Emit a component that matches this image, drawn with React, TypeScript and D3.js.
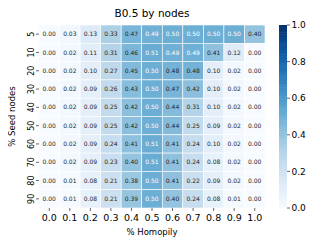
import React from "react";
import { scaleBand, scaleLinear, interpolateBlues, range } from "d3";

const homophily = ["0.0", "0.1", "0.2", "0.3", "0.4", "0.5", "0.6", "0.7", "0.8", "0.9", "1.0"];
const seedNodes = ["5", "10", "20", "30", "40", "50", "60", "70", "80", "90"];

const row5 = [0.0, 0.03, 0.13, 0.33, 0.47, 0.49, 0.5, 0.5, 0.5, 0.5, 0.4];
const row10 = [0.0, 0.02, 0.11, 0.31, 0.46, 0.51, 0.49, 0.49, 0.41, 0.12, 0.0];
const row20 = [0.0, 0.02, 0.1, 0.27, 0.45, 0.5, 0.48, 0.48, 0.1, 0.02, 0.0];
const row30 = [0.0, 0.02, 0.09, 0.26, 0.43, 0.5, 0.47, 0.42, 0.1, 0.02, 0.0];
const row40 = [0.0, 0.02, 0.09, 0.25, 0.42, 0.5, 0.44, 0.31, 0.1, 0.02, 0.0];
const row50 = [0.0, 0.02, 0.09, 0.25, 0.42, 0.5, 0.44, 0.25, 0.09, 0.02, 0.0];
const row60 = [0.0, 0.02, 0.09, 0.24, 0.41, 0.51, 0.41, 0.24, 0.1, 0.02, 0.0];
const row70 = [0.0, 0.02, 0.09, 0.23, 0.4, 0.51, 0.41, 0.24, 0.08, 0.02, 0.0];
const row80 = [0.0, 0.01, 0.08, 0.21, 0.38, 0.5, 0.41, 0.22, 0.09, 0.02, 0.0];
const row90 = [0.0, 0.01, 0.08, 0.21, 0.39, 0.5, 0.4, 0.24, 0.08, 0.01, 0.0];
const rows = [row5, row10, row20, row30, row40, row50, row60, row70, row80, row90];

const colorbarTicks = [0, 0.2, 0.4, 0.6, 0.8, 1.0];

const font = "DejaVu Sans, sans-serif";

export default function App() {
    const width = 332;
    const height = 249;
    const left = 39;
    const right = 265;
    const top = 25;
    const bottom = 208;

    const x = scaleBand().domain(homophily).range([left, right]);
    const y = scaleBand().domain(seedNodes).range([top, bottom]);
    const color = (v: number) => interpolateBlues(v);

    // colorbar
    const cbX = 279;
    const cbW = 8;
    const cbY = scaleLinear().domain([0, 1]).range([bottom, top]);
    const steps = range(0, 1.0001, 0.01);

    return (
        <div style={{ margin: -8 }}>
            <svg width={width} height={height} style={{ display: "block" }}>
                <rect width={width} height={height} fill="white" />
                <text x={(left + right) / 2} y={17} textAnchor="middle" fontFamily={font} fontSize={10.5} fill="#000">
                    B0.5 by nodes
                </text>
                {rows.map((vals, r) =>
                    vals.map((v, c) => (
                        <g key={`${r}-${c}`}>
                            <rect
                                x={x(homophily[c])}
                                y={y(seedNodes[r])}
                                width={x.bandwidth()}
                                height={y.bandwidth()}
                                fill={color(v)}
                                stroke="white"
                                strokeWidth={0.6}
                            />
                            <text
                                x={x(homophily[c])! + x.bandwidth() / 2}
                                y={y(seedNodes[r])! + y.bandwidth() / 2}
                                dy="0.35em"
                                textAnchor="middle"
                                fontFamily={font}
                                fontSize={6}
                                fill={v >= 0.49 ? "white" : "#262626"}
                            >
                                {v.toFixed(2)}
                            </text>
                        </g>
                    ))
                )}
                {/* y axis */}
                {seedNodes.map((s) => {
                    const cy = y(s)! + y.bandwidth() / 2;
                    return (
                        <g key={s}>
                            <line x1={left - 3} x2={left} y1={cy} y2={cy} stroke="#000" strokeWidth={0.6} />
                            <text
                                transform={`translate(${left - 5},${cy}) rotate(-90)`}
                                textAnchor="middle"
                                fontFamily={font}
                                fontSize={8}
                                fill="#000"
                            >
                                {s}
                            </text>
                        </g>
                    );
                })}
                <text
                    transform={`translate(15,${(top + bottom) / 2}) rotate(-90)`}
                    textAnchor="middle"
                    fontFamily={font}
                    fontSize={8.5}
                    fill="#000"
                >
                    % Seed nodes
                </text>
                {/* x axis */}
                {homophily.map((h) => {
                    const cx = x(h)! + x.bandwidth() / 2;
                    return (
                        <g key={h}>
                            <line x1={cx} x2={cx} y1={bottom} y2={bottom + 3} stroke="#000" strokeWidth={0.6} />
                            <text x={cx} y={bottom + 13} textAnchor="middle" fontFamily={font} fontSize={9.5} fill="#000">
                                {h}
                            </text>
                        </g>
                    );
                })}
                <text x={(left + right) / 2} y={235} textAnchor="middle" fontFamily={font} fontSize={8.5} fill="#000">
                    % Homopily
                </text>
                {/* colorbar */}
                {steps.map((s) => (
                    <rect
                        key={s}
                        x={cbX}
                        y={cbY(Math.min(1, s + 0.01))}
                        width={cbW}
                        height={cbY(s) - cbY(Math.min(1, s + 0.01)) + 0.5}
                        fill={color(s)}
                    />
                ))}
                {colorbarTicks.map((t) => (
                    <g key={t}>
                        <line x1={cbX + cbW} x2={cbX + cbW + 3} y1={cbY(t)} y2={cbY(t)} stroke="#000" strokeWidth={0.6} />
                        <text x={cbX + cbW + 4.5} y={cbY(t)} dy="0.35em" fontFamily={font} fontSize={9} fill="#000">
                            {t.toFixed(1)}
                        </text>
                    </g>
                ))}
            </svg>
        </div>
    );
}
